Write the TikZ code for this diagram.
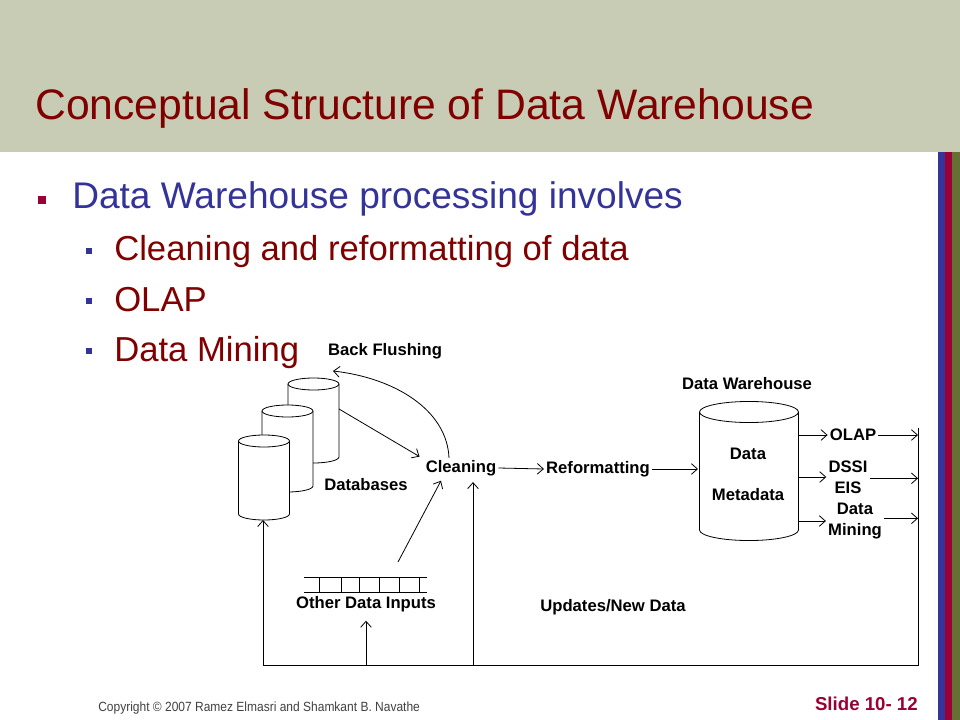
\documentclass[tikz,border=0pt]{standalone}
\usepackage{fontspec}
\setmainfont{Liberation Sans}
\usetikzlibrary{arrows.meta}
\definecolor{band}{RGB}{200,204,180}
\definecolor{titlered}{RGB}{128,0,0}
\definecolor{slideblue}{RGB}{51,51,153}
\definecolor{slidered}{RGB}{153,0,51}
\definecolor{slideolive}{RGB}{102,112,51}
\tikzset{
  conn/.style={-{Straight Barb[length=4.5pt,width=8pt]},line width=0.6pt},
  lbl/.style={font=\bfseries\fontsize{12.5}{16}\selectfont,inner sep=1.5pt,align=center},
  slidetext/.style={anchor=base west,inner sep=0pt},
}

\begin{document}
\begin{tikzpicture}[x=0.75pt,y=-0.75pt]
\useasboundingbox (0,0) rectangle (960,720);
% slide frame
\fill[band] (0,0) rectangle (960,152);
\fill[slideblue] (938,152) rectangle (945,720);
\fill[slidered] (945,152) rectangle (952,720);
\fill[slideolive] (952,152) rectangle (960,720);
\node[slidetext,text=titlered,font=\fontsize{32}{38}\selectfont] (title) at (35,120) {Conceptual Structure of Data Warehouse};
% bullets
\fill[slidered] (38,196) rectangle (46,204);
\node[slidetext,text=slideblue,font=\fontsize{27.8}{32}\selectfont] (lvl1) at (72,209) {Data Warehouse processing involves};
\foreach \yb/\txt [count=\i] in {261/Cleaning and reformatting of data,311/OLAP,361/Data Mining}{
  \fill[slideblue] (86,\yb-13) rectangle (92,\yb-7);
  \node[slidetext,text=titlered,font=\fontsize{26}{30}\selectfont] (lvl2\i) at (114,\yb) {\txt};
}
% database stack
\foreach \cx/\yt/\yb in {313.5/384/457, 287.5/411/486, 264/441/514}{
  \fill[white] (\cx-25.5,\yt) -- (\cx-25.5,\yb) arc[start angle=180,end angle=360,x radius=19.1pt,y radius=4.5pt] -- (\cx+25.5,\yt) -- cycle;
  \draw[line width=0.6pt] (\cx-25.5,\yt) -- (\cx-25.5,\yb) arc[start angle=180,end angle=360,x radius=19.1pt,y radius=4.5pt] -- (\cx+25.5,\yt);
  \filldraw[fill=white,line width=0.6pt] (\cx,\yt) ellipse[x radius=19.1pt,y radius=4.5pt];
}
\coordinate (dbout) at (339,409);
\coordinate (dbin) at (263,520);
% warehouse
\draw[line width=0.6pt] (699.5,412) -- (699.5,530) arc[start angle=180,end angle=360,x radius=37.1pt,y radius=7.9pt] -- (798.5,412);
\draw[line width=0.6pt] (749,412) ellipse[x radius=37.1pt,y radius=7.9pt];
\coordinate (dwin) at (698,469);
\coordinate (dwout) at (798.5,469);
% labels
\node[lbl] (backfl) at (385,351) {Back Flushing};
\node[lbl] (dbs) at (366,485) {Databases};
\node[lbl] (clean) at (461,468) {Cleaning};
\node[lbl] (reform) at (598,469) {Reformatting};
\node[lbl] (dwlbl) at (747,384) {Data Warehouse};
\node[lbl] (dwdata) at (748,454) {Data};
\node[lbl] (dwmeta) at (748,495) {Metadata};
\node[lbl] (olap) at (853,435) {OLAP};
\node[lbl] (dssi) at (848,477) {DSSI\\EIS};
\node[lbl] (dmin) at (855,521) {Data\\Mining};
\node[lbl] (odi) at (366,604) {Other Data Inputs};
\node[lbl] (upd) at (613,607) {Updates/New Data};
% other inputs record
\draw[line width=0.6pt] (304,577) -- (427,577) (304,592) -- (427,592);
\foreach \gx in {319,341,359,379,399,419}
  \draw[line width=0.6pt] (\gx,577) -- (\gx,592);
\coordinate (odiout) at (398,562);
% bus lines
\coordinate (busT) at (918,428);
\coordinate (busB) at (918,665);
\coordinate (busL) at (263,665);
\coordinate (updx) at (473,665);
% connectors
\draw[conn] (dbout) -- ([xshift=-3pt,yshift=1pt]clean.north west);
\draw[conn] ([xshift=-9pt]clean.north) .. controls (447,410) and (395,378) .. (333,371);
\draw[conn] (clean.east) -- (reform.west);
\draw[conn] (reform.east) -- (dwin);
\draw[conn] (dwout |- olap.west) -- (olap.west);
\draw[conn] (dwout |- dssi.west) -- (dssi.west);
\draw[conn] (dwout |- dmin.west) -- (dmin.west);
\draw[conn] (olap.east) -- (olap.east -| busT);
\draw[conn] ([yshift=-1pt]dssi.east) -- ([yshift=-1pt]dssi.east -| busT);
\draw[conn] ([yshift=2pt]dmin.east) -- ([yshift=2pt]dmin.east -| busT);
\draw[conn] (busT) -- (busB) -- (busL) -- (dbin);
\draw[conn] (odi.south |- busB) -- ([yshift=-5pt]odi.south);
\draw[conn] (updx) -- ([yshift=-3pt]updx |- clean.south);
\draw[conn] (odiout) -- ([xshift=-15pt,yshift=-2pt]clean.south);
% footer
\node[slidetext,text=black!75,font=\fontsize{10}{12}\selectfont] (copyr) at (98,711) {\scalebox{0.9}[1]{Copyright © 2007 Ramez Elmasri and Shamkant B. Navathe}};
\node[anchor=base east,inner sep=0pt,text=slidered,font=\bfseries\fontsize{14}{16}\selectfont] (slno) at (918,710) {Slide 10- 12};
\end{tikzpicture}
\end{document}
